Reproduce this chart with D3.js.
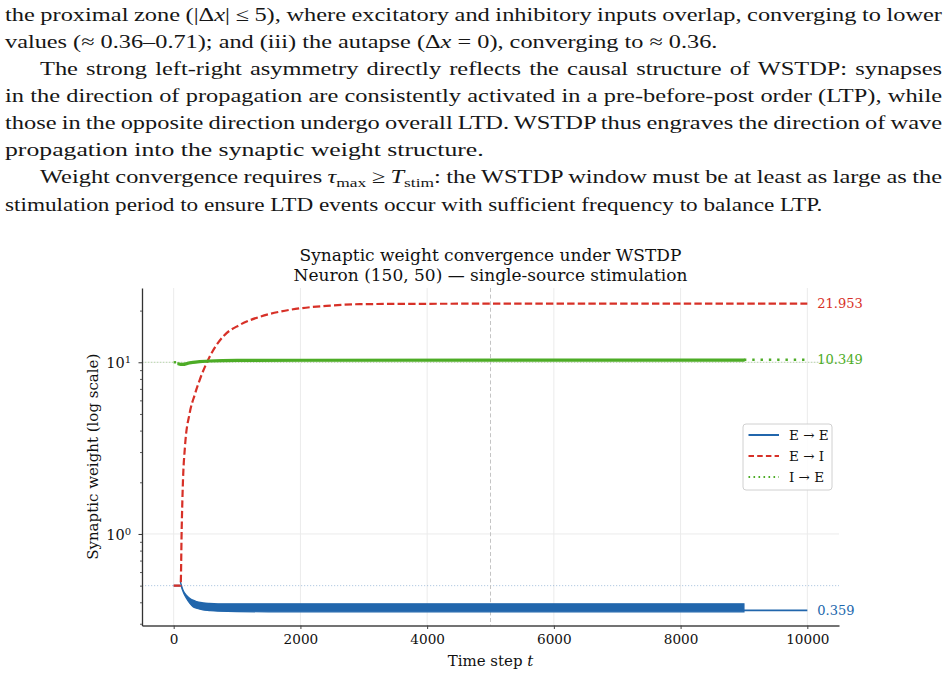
<!DOCTYPE html>
<html>
<head>
<meta charset="utf-8">
<script src="https://cdn.jsdelivr.net/npm/d3@7"></script>
<style>
  body { margin: 0; background: #fff; }
  svg text { font-family: "DejaVu Serif", serif; fill: #111; }
  svg .paper text { font-family: "Liberation Serif", serif; font-size: 19px; fill: #161616; }
</style>
</head>
<body>
<svg id="page" width="947" height="676"></svg>
<script>
// values
var xTicks = [0, 2000, 4000, 6000, 8000, 10000];
var yMajorTicks = [1, 10];
var yMinorTicks = [0.3, 0.4, 0.5, 0.6, 0.7, 0.8, 0.9, 2, 3, 4, 5, 6, 7, 8, 9, 20];
var stimMark = 5000;
var initWeights = [0.5, 10];           // E->E and I->E starting weights (dotted guides)

// E -> E : oscillating band (envelopes) then a flat tail
var eeHeadT = [0, 106];
var eeHeadW = [0.5, 0.5];
var eeBandT  = [106, 121, 147, 200, 252, 305, 358, 462, 560, 700, 1500, 9000];
var eeBandHi = [0.527, 0.505, 0.472, 0.44, 0.422, 0.412, 0.404, 0.397, 0.394, 0.392, 0.392, 0.392];
var eeBandLo = [0.527, 0.494, 0.462, 0.422, 0.395, 0.377, 0.369, 0.361, 0.358, 0.355, 0.352, 0.352];
var eeTailT = [9000, 10000];
var eeTailW = [0.359, 0.359];

// E -> I
var eiT = [0, 110, 126, 147, 178, 252, 331, 410, 568, 778, 1041, 1357, 1673, 1988, 2410, 2935, 3770, 5000, 7000, 10000];
var eiW = [0.5, 0.5, 1.055, 2.06, 3.22, 5.05, 6.45, 7.88, 10.78, 14.1, 16.5, 18.4, 19.7, 20.6, 21.3, 21.8, 21.9, 21.94, 21.95, 21.953];

// I -> E
var ieHeadT = [0, 68];
var ieHeadW = [10, 10];
var ieBandT  = [68, 110, 142, 250, 410, 568, 1000, 2000, 9000];
var ieBandLo = [9.7, 9.6, 9.6, 9.8, 9.95, 10.05, 10.12, 10.15, 10.18];
var ieBandHi = [9.9, 9.85, 9.85, 10.05, 10.2, 10.3, 10.38, 10.4, 10.42];
var ieTailT = [9000, 10000];
var ieTailW = [10.349, 10.349];

var finalWeights = [0.359, 21.953, 10.349];
var seriesNames = ["E \u2192 E", "E \u2192 I", "I \u2192 E"];
var colors = ["#2166ac", "#d73027", "#4dac26"];

var svg = d3.select("#page");

// ---------- paper text above the figure ----------
var paperLines = [
  {x: 5, y: 21, w: 937, full: true, parts: [["the proximal zone (|\u0394"], ["x", "i"], ["| \u2264 5), where excitatory and inhibitory inputs overlap, converging to lower"]]},
  {x: 5, y: 47.5, w: 713, full: false, parts: [["values (\u2248 0.36\u20130.71); and (iii) the autapse (\u0394"], ["x", "i"], [" = 0), converging to \u2248 0.36."]]},
  {x: 40, y: 75, w: 902, full: true, parts: [["The strong left-right asymmetry directly reflects the causal structure of WSTDP: synapses"]]},
  {x: 5, y: 102, w: 937, full: true, parts: [["in the direction of propagation are consistently activated in a pre-before-post order (LTP), while"]]},
  {x: 5, y: 128.5, w: 937, full: true, parts: [["those in the opposite direction undergo overall LTD. WSTDP thus engraves the direction of wave"]]},
  {x: 5, y: 155.5, w: 479, full: false, parts: [["propagation into the synaptic weight structure."]]},
  {x: 40, y: 183, w: 902, full: true, parts: [["Weight convergence requires "], ["\u03c4", "i"], ["max", "sub"], [" \u2265 "], ["T", "i"], ["stim", "sub"], [": the WSTDP window must be at least as large as the"]]},
  {x: 5, y: 211, w: 818, full: false, parts: [["stimulation period to ensure LTD events occur with sufficient frequency to balance LTP."]]}
];

var paper = svg.append("g").attr("class", "paper");
var lineGroups = [];
var lineNodes = paperLines.map(function(line) {
  var g = paper.append("g").attr("transform", "translate(" + line.x + "," + line.y + ")");
  lineGroups.push(g);
  var t = g.append("text").attr("x", 0).attr("y", 0);
  var shifted = false;
  line.parts.forEach(function(p) {
    var s = t.append("tspan").text(p[0]);
    if (p[1] === "i") s.attr("font-style", "italic");
    if (p[1] === "sub") { s.attr("font-size", "13.5px").attr("dy", 4); shifted = true; }
    else if (shifted) { s.attr("dy", -4); shifted = false; }
  });
  return t;
});

// stretch the glyphs to the reference widths, then justify full lines with word spacing
var sxSum = 0, sxN = 0;
paperLines.forEach(function(line, i) {
  if (line.full) return;
  var sx = line.w / lineNodes[i].node().getComputedTextLength();
  lineGroups[i].attr("transform", "translate(" + line.x + "," + line.y + ") scale(" + sx + ",1)");
  sxSum += sx; sxN++;
});
var sxBase = sxSum / sxN;
paperLines.forEach(function(line, i) {
  if (!line.full) return;
  var node = lineNodes[i].node();
  lineGroups[i].attr("transform", "translate(" + line.x + "," + line.y + ") scale(" + sxBase + ",1)");
  var len = node.getComputedTextLength();
  var spaces = node.textContent.split(" ").length - 1;
  lineNodes[i].attr("word-spacing", (line.w / sxBase - len) / spaces);
});

// ---------- chart ----------
var plotL = 142, plotR = 839, plotT = 288, plotB = 625.5;
var x = d3.scaleLinear().domain([-500, 10500]).range([plotL, plotR]);
var y = d3.scaleLog().domain([0.293, 27.08]).range([plotB, plotT]);

var chart = svg.append("g");

// grid
chart.selectAll(".vgrid").data(xTicks).enter().append("line")
  .attr("x1", function(d) { return x(d); }).attr("x2", function(d) { return x(d); })
  .attr("y1", plotT).attr("y2", plotB)
  .attr("stroke", "#ebebeb").attr("stroke-width", 1);
chart.selectAll(".hgrid").data(yMajorTicks).enter().append("line")
  .attr("x1", plotL).attr("x2", plotR)
  .attr("y1", function(d) { return y(d); }).attr("y2", function(d) { return y(d); })
  .attr("stroke", "#ebebeb").attr("stroke-width", 1);

// initial weight guides
var guideColors = [colors[0], colors[2]];
chart.selectAll(".guide").data(initWeights).enter().append("line")
  .attr("x1", plotL).attr("x2", plotR)
  .attr("y1", function(d) { return y(d); }).attr("y2", function(d) { return y(d); })
  .attr("stroke", function(d, i) { return guideColors[i]; })
  .attr("stroke-opacity", 0.35).attr("stroke-width", 1)
  .attr("stroke-dasharray", "1.2,1.8");

// stimulation marker
chart.append("line")
  .attr("x1", x(stimMark)).attr("x2", x(stimMark))
  .attr("y1", plotT).attr("y2", plotB)
  .attr("stroke", "#c4c4c4").attr("stroke-width", 1)
  .attr("stroke-dasharray", "4,2.6");

var zip = function(ts, ws) { return ts.map(function(t, i) { return [t, ws[i]]; }); };
var zip3 = function(ts, lo, hi) { return ts.map(function(t, i) { return [t, lo[i], hi[i]]; }); };
var line = d3.line().x(function(d) { return x(d[0]); }).y(function(d) { return y(d[1]); })
  .curve(d3.curveMonotoneX);
var band = d3.area().x(function(d) { return x(d[0]); })
  .y0(function(d) { return y(d[1]); }).y1(function(d) { return y(d[2]); })
  .curve(d3.curveMonotoneX);

// E -> E
chart.append("path").attr("d", line(zip(eeHeadT, eeHeadW)))
  .attr("fill", "none").attr("stroke", colors[0]).attr("stroke-width", 1.8);
chart.append("path").attr("d", band(zip3(eeBandT, eeBandLo, eeBandHi)))
  .attr("fill", colors[0]).attr("stroke", colors[0]).attr("stroke-width", 1.2);
chart.append("path").attr("d", line(zip(eeTailT, eeTailW)))
  .attr("fill", "none").attr("stroke", colors[0]).attr("stroke-width", 1.8);

// E -> I
chart.append("path").attr("d", line(zip(eiT, eiW)))
  .attr("fill", "none").attr("stroke", colors[1]).attr("stroke-width", 2.2)
  .attr("stroke-dasharray", "7.4,3.2");

// I -> E
chart.append("path").attr("d", line(zip(ieHeadT, ieHeadW)))
  .attr("fill", "none").attr("stroke", colors[2]).attr("stroke-width", 2.4)
  .attr("stroke-dasharray", "2.4,6");
chart.append("path").attr("d", band(zip3(ieBandT, ieBandLo, ieBandHi)))
  .attr("fill", colors[2]).attr("stroke", colors[2]).attr("stroke-width", 1.4);
chart.append("path").attr("d", line(zip(ieTailT, ieTailW)))
  .attr("fill", "none").attr("stroke", colors[2]).attr("stroke-width", 2.4)
  .attr("stroke-dasharray", "2.4,5.9");

// final value labels
chart.selectAll(".final").data(finalWeights).enter().append("text")
  .attr("x", x(10000) + 10)
  .attr("y", function(d) { return y(d); })
  .attr("dy", "0.35em")
  .style("font-size", "13px")
  .style("fill", function(d, i) { return colors[i]; })
  .text(function(d) { return d3.format(".3f")(d); });

// axes
var xAxis = chart.append("g").attr("transform", "translate(0," + plotB + ")")
  .call(d3.axisBottom(x).tickValues(xTicks).tickSize(3.5).tickSizeOuter(0).tickPadding(5)
    .tickFormat(d3.format("d")));
xAxis.select(".domain").attr("stroke", "#444").attr("stroke-width", 1.3);
xAxis.selectAll(".tick line").attr("stroke", "#444");
xAxis.selectAll(".tick text").style("font-size", "13.6px");

var yAxis = chart.append("g").attr("transform", "translate(" + plotL + ",0)")
  .call(d3.axisLeft(y).tickValues(yMajorTicks).tickSize(3.5).tickSizeOuter(0).tickFormat(""));
yAxis.select(".domain").attr("stroke", "#333").attr("stroke-width", 1.3);
yAxis.selectAll(".tick line").attr("stroke", "#333");
var yMinor = chart.append("g").attr("transform", "translate(" + plotL + ",0)")
  .call(d3.axisLeft(y).tickValues(yMinorTicks).tickSize(2).tickFormat(""));
yMinor.select(".domain").remove();
yMinor.selectAll(".tick line").attr("stroke", "#333").attr("stroke-width", 0.8);

var yLab = chart.selectAll(".ylab").data(yMajorTicks).enter().append("text")
  .attr("x", plotL - 11).attr("y", function(d) { return y(d) + 6; })
  .attr("text-anchor", "end").style("font-size", "14.5px");
yLab.append("tspan").text("10");
yLab.append("tspan").attr("dy", -5).style("font-size", "10px")
  .text(function(d) { return Math.round(Math.log10(d)); });

// labels and title
chart.append("text").attr("x", (plotL + plotR) / 2).attr("y", 666)
  .attr("text-anchor", "middle").style("font-size", "15px")
  .call(function(t) {
    t.append("tspan").text("Time step ");
    t.append("tspan").attr("font-style", "italic").text("t");
  });
chart.append("text")
  .attr("transform", "translate(93," + ((plotT + plotB) / 2) + ") rotate(-90)")
  .attr("text-anchor", "middle").attr("dominant-baseline", "central")
  .style("font-size", "15px")
  .text("Synaptic weight (log scale)");
var titleLines = ["Synaptic weight convergence under WSTDP", "Neuron (150, 50) \u2014 single-source stimulation"];
chart.selectAll(".title").data(titleLines).enter().append("text")
  .attr("x", (plotL + plotR) / 2).attr("y", function(d, i) { return 261 + i * 19.7; })
  .attr("text-anchor", "middle").style("font-size", "17px")
  .text(function(d) { return d; });

// legend
var legend = chart.append("g").attr("transform", "translate(743,424)");
legend.append("rect").attr("width", 89).attr("height", 66).attr("rx", 3)
  .attr("fill", "#fff").attr("fill-opacity", 0.85).attr("stroke", "#d0d0d0");
var rows = legend.selectAll(".row").data(seriesNames).enter().append("g")
  .attr("transform", function(d, i) { return "translate(0," + (11 + i * 21) + ")"; });
rows.append("line").attr("x1", 5.5).attr("x2", 36)
  .attr("stroke", function(d, i) { return colors[i]; })
  .attr("stroke-width", 2)
  .attr("stroke-dasharray", function(d, i) { return i === 2 ? "1.6,3.4" : (i === 1 ? "5.5,3.2" : null); });
rows.append("text").attr("x", 46).attr("dy", "0.35em").style("font-size", "13.5px")
  .text(function(d) { return d; });
</script>
</body>
</html>
